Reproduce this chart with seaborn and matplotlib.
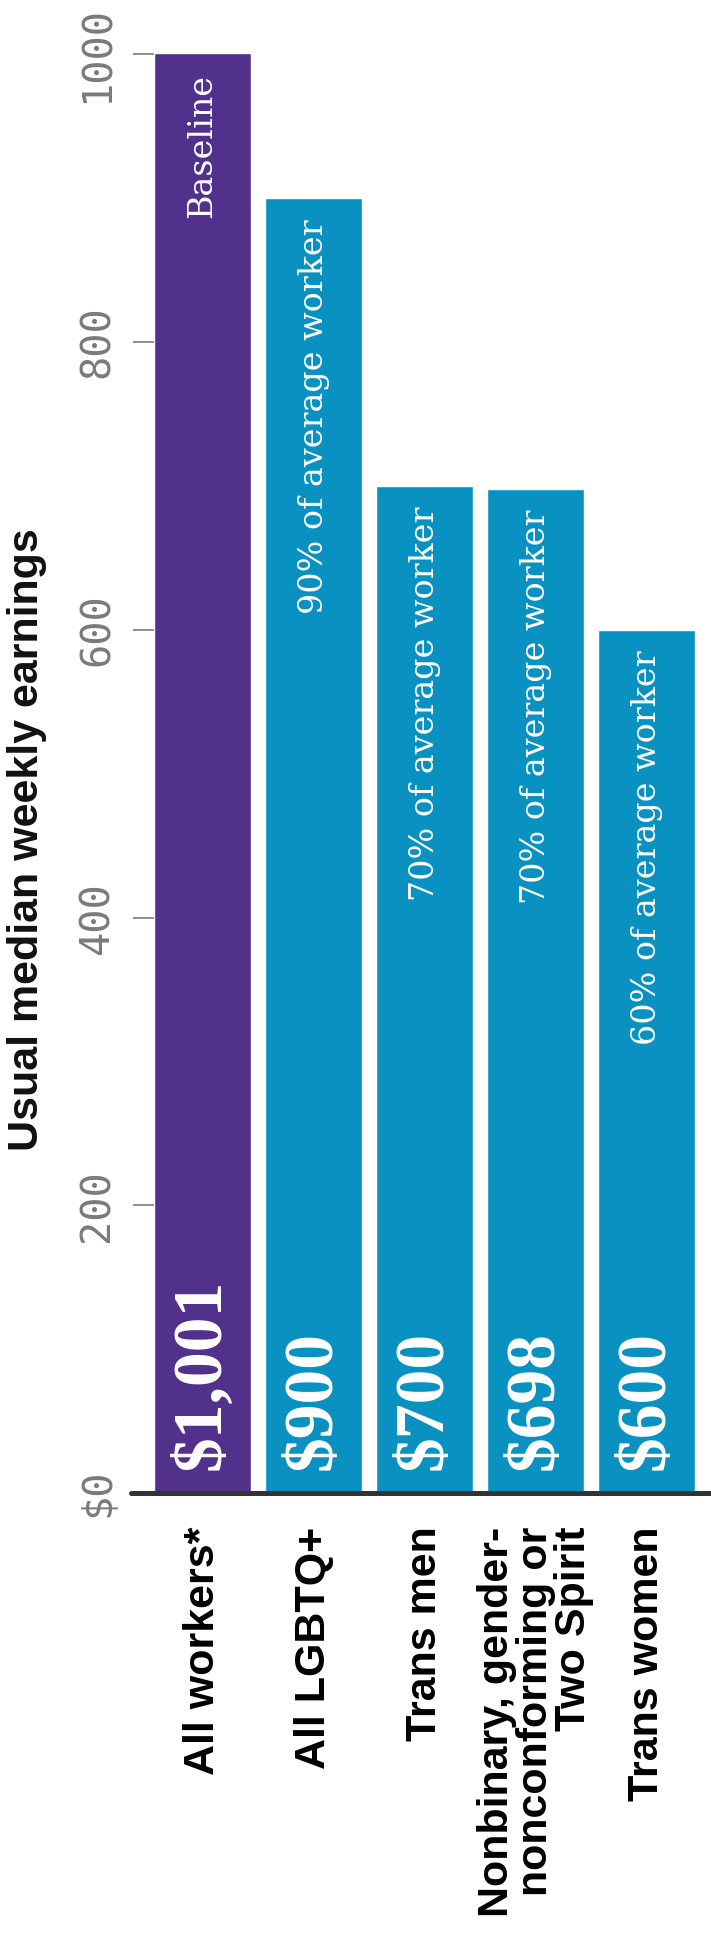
import matplotlib
matplotlib.use("Agg")
import matplotlib.pyplot as plt
import seaborn as sns
import pandas as pd

# data
groups = ["All workers*", "All LGBTQ+", "Trans men",
          "Nonbinary, gender-\nnonconforming or\nTwo Spirit", "Trans women"]
earnings = [1001, 900, 700, 698, 600]
value_labels = ["\\$1,001", "\\$900", "\\$700", "\\$698", "\\$600"]
share_labels = ["Baseline", "90% of average worker", "70% of average worker",
                "70% of average worker", "60% of average worker"]
bar_colors = ["#52318c", "#0891c1", "#0891c1", "#0891c1", "#0891c1"]
y_ticks = [0, 200, 400, 600, 800, 1000]
y_tick_labels = ["\\$0", "200", "400", "600", "800", "1000"]

sns.set_theme(style="white")
plt.rcParams["font.family"] = ["Liberation Sans", "DejaVu Sans"]

fig = plt.figure(figsize=(7.11, 19.42), dpi=100)
ax = fig.add_axes([154 / 711, 449 / 1942, 557 / 711, 1479 / 1942])

df = pd.DataFrame({"group": groups, "earnings": earnings})
sns.barplot(data=df, x="group", y="earnings", hue="group", palette=bar_colors,
            width=0.874, saturation=1, legend=False, ax=ax)

ax.set_xlim(-0.437, 4.581)
ax.set_ylim(0, 1028)
sns.despine(ax=ax, left=True, bottom=True)

# thick baseline, sticking out a little to the left
ax.axhline(0, xmin=-23 / 557, xmax=1, color="#333333", lw=3.6, clip_on=False, zorder=5)

# value axis (everything is turned 90 degrees)
ax.set_yticks(y_ticks)
ax.set_yticklabels(y_tick_labels, rotation=90, va="center", family="DejaVu Sans Mono",
                   fontsize=29, color="#7a7a7a")
ax.tick_params(axis="y", left=True, length=15, width=1.3, color="#888888", pad=11)
ax.set_ylabel("Usual median weekly earnings", fontsize=31, fontweight="bold", color="#111111")
ax.yaxis.set_label_coords(-0.192, 0.442)

# category labels
ax.set_xticks(range(len(groups)))
ax.set_xticklabels(groups, rotation=90, ha="center", va="top", multialignment="right",
                   fontsize=31, fontweight="bold", color="black", linespacing=0.95)
ax.tick_params(axis="x", length=0, pad=24)
ax.set_xlabel("")

for i, v in enumerate(earnings):
    ax.annotate(value_labels[i], (i, 0), xytext=(0, 16.5), textcoords="offset points",
                rotation=90, ha="center", va="bottom", color="white",
                family="Liberation Serif", fontweight="bold", fontsize=50)
    ax.annotate(share_labels[i], (i, v), xytext=(0, -15), textcoords="offset points",
                rotation=90, ha="center", va="top", color="white",
                family="DejaVu Serif", fontsize=24)

fig.savefig("out.png", dpi=100)
